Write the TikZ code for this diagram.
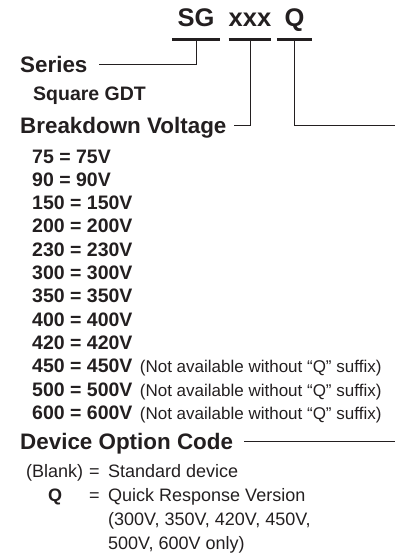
\documentclass[tikz,border=0pt]{standalone}
\usepackage{fontspec}
\setmainfont{Liberation Sans}
\usepackage{tikz}
\usetikzlibrary{positioning}
\definecolor{ink}{HTML}{231F20}

\begin{document}
\begin{tikzpicture}[
  x=1pt, y=-1pt,
  every node/.style = {text=ink, inner sep=0pt},
  code/.style  = {font=\fontsize{25.5}{30}\selectfont\bfseries, anchor=base,
                  text height=19pt, text depth=13.5pt},
  head/.style  = {font=\fontsize{22.4}{26}\selectfont\bfseries, anchor=base west,
                  text height=15pt, text depth=0pt},
  sub/.style   = {font=\fontsize{19.5}{23}\selectfont\bfseries, anchor=base west},
  volt/.style  = {font=\fontsize{19.5}{23}\selectfont\bfseries},
  note/.style  = {font=\fontsize{17}{20}\selectfont},
  desc/.style  = {font=\fontsize{18}{22}\selectfont, anchor=base west},
  bar/.style   = {draw=ink, line width=2.6pt},
  lead/.style  = {draw=ink, line width=0.9pt},
]
  \useasboundingbox (0,0) rectangle (395,557);
  \coordinate (edge) at (395,0);

  % part number
  \node[code, minimum width=48pt] (sg)  at (196,26)   {SG};
  \node[code, minimum width=42pt] (xxx) at (250,26)   {xxx};
  \node[code, minimum width=35pt] (q)   at (294.5,26) {Q};
  \draw[bar] (sg.south west)  -- (sg.south east);
  \draw[bar] (xxx.south west) -- (xxx.south east);
  \draw[bar] (q.south west)   -- (q.south east);

  % headings
  \node[head] (series) at (20,72)  {Series};
  \node[sub]  (sqgdt)  at (33,100) {Square GDT};
  \node[head] (brk)    at (20,133) {Breakdown Voltage};
  \node[head] (doc)    at (20,449) {Device Option Code};

  \draw[lead] (sg.south)  |- ([xshift=11pt]series.east);
  \draw[lead] (xxx.south) |- ([xshift=7pt]brk.east);
  \draw[lead] (q.south)   |- (brk.east -| edge);
  \draw[lead] ([xshift=11pt]doc.east) -- (doc.east -| edge);

  % voltage codes
  \node[volt, anchor=base west] (v75) at (32,163) {75 = 75V};
  \node[volt, below=23.3pt of v75.base west,  anchor=base west] (v90)  {90 = 90V};
  \node[volt, below=23.3pt of v90.base west,  anchor=base west] (v150) {150 = 150V};
  \node[volt, below=23.3pt of v150.base west, anchor=base west] (v200) {200 = 200V};
  \node[volt, below=23.3pt of v200.base west, anchor=base west] (v230) {230 = 230V};
  \node[volt, below=23.3pt of v230.base west, anchor=base west] (v300) {300 = 300V};
  \node[volt, below=23.3pt of v300.base west, anchor=base west] (v350) {350 = 350V};
  \node[volt, below=23.3pt of v350.base west, anchor=base west] (v400) {400 = 400V};
  \node[volt, below=23.3pt of v400.base west, anchor=base west] (v420) {420 = 420V};
  \node[volt, below=23.3pt of v420.base west, anchor=base west] (v450) {450 = 450V};
  \node[volt, below=23.3pt of v450.base west, anchor=base west] (v500) {500 = 500V};
  \node[volt, below=23.3pt of v500.base west, anchor=base west] (v600) {600 = 600V};

  \node[note, right=7pt of v450.base east, anchor=base west] {(Not available without “Q” suffix)};
  \node[note, right=7pt of v500.base east, anchor=base west] {(Not available without “Q” suffix)};
  \node[note, right=7pt of v600.base east, anchor=base west] {(Not available without “Q” suffix)};

  % option codes
  \node[desc] (blank)  at (26,477)  {(Blank)};
  \node[desc] (eqa)    at (89,477)  {=};
  \node[desc] (stddev) at (108,477) {Standard device};
  \node[desc, font=\fontsize{18}{22}\selectfont\bfseries, anchor=base]
              (qopt)   at (55,501)  {Q};
  \node[desc] (eqb)    at (89,501)  {=};
  \node[desc] (quick)  at (108,501) {Quick Response Version};
  \node[desc, below=24pt of quick.base west, anchor=base west] (qv1) {(300V, 350V, 420V, 450V,};
  \node[desc, below=24pt of qv1.base west,   anchor=base west] (qv2) {500V, 600V only)};
\end{tikzpicture}
\end{document}
